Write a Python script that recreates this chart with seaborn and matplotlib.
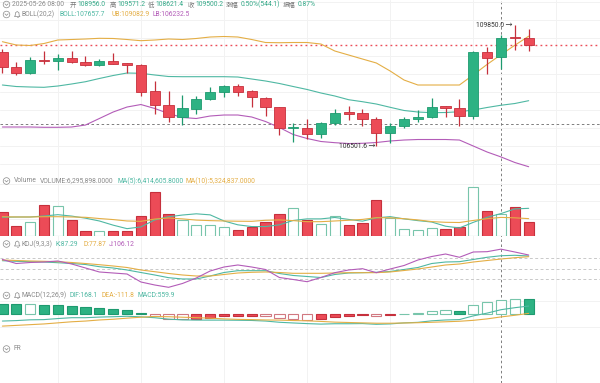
import numpy as np
import pandas as pd
import matplotlib
matplotlib.use("Agg")
import matplotlib.pyplot as plt
import seaborn as sns
from matplotlib.patches import Circle, Polygon

sns.set_theme(style="white")
plt.rcParams['font.family'] = ['Roboto', 'Noto Sans CJK SC', 'DejaVu Sans']

# ---------------- data ----------------
opens = [109111, 108696, 108514, 108882, 108854, 108929, 108834, 108743, 108862, 108790,
         108743, 108024, 107628, 107313, 107526, 107802, 108004, 108162, 108024, 107838,
         107573, 106990, 107000, 106826, 107130, 107440, 107407, 107249, 106853, 107055,
         107249, 107296, 107609, 107545, 107340, 109095, 108956.0, 109520, 109482]
highs = [109186, 108818, 108956, 109139, 109039, 109130, 109001, 108901, 109067, 108790,
         108760, 108309, 108024, 107905, 107885, 108143, 108190, 108209, 108051, 107850,
         107590, 107130, 107257, 107174, 107517, 107609, 107517, 107313, 107130, 107313,
         107498, 107838, 107620, 107802, 109139, 109250, 109571.2, 109850.0, 109739]
lows = [108530, 108467, 108500, 108763, 108605, 108807, 108716, 108724, 108763, 108514,
        107885, 107379, 107174, 107083, 107379, 107775, 107850, 107885, 107573, 107340,
        106806, 106621, 106696, 106715, 107083, 107222, 107055, 106501.6, 106593, 106992,
        107174, 107290, 107313, 107055, 107241, 108486, 108621.4, 109158, 109131]
closes = [108696, 108514, 108882, 108854, 108929, 108834, 108752, 108862, 108771, 108752,
          108004, 107636, 107313, 107545, 107802, 107988, 108162, 108004, 107850, 107573,
          106992, 107010, 106826, 107130, 107407, 107400, 107249, 106853, 107055, 107249,
          107313, 107589, 107562, 107340, 109095, 108929, 109500.2, 109480, 109300]

boll_ub = [109388, 109297, 109283, 109338, 109435, 109449, 109463, 109482, 109477, 109449,
           109416, 109435, 109463, 109449, 109477, 109518, 109532, 109518, 109449, 109366,
           109360, 109366, 109366, 109324, 109131, 109020, 108909, 108799, 108577, 108328,
           108190, 108190, 108190, 108190, 108470, 108760, 109030, 109290, 109540]
boll_mb = [108190, 108148, 108135, 108126, 108162, 108218, 108281, 108370, 108453, 108522,
           108514, 108467, 108425, 108420, 108420, 108420, 108420, 108411, 108356, 108301,
           108232, 108148, 108066, 107969, 107886, 107783, 107728, 107664, 107573, 107485,
           107443, 107424, 107429, 107451, 107498, 107568, 107630, 107678, 107756]
boll_lb = [107028, 107028, 107028, 107020, 107020, 107028, 107083, 107263, 107443, 107581,
           107650, 107540, 107401, 107291, 107263, 107332, 107360, 107360, 107305, 107180,
           107014, 106820, 106710, 106627, 106594, 106571, 106577, 106599, 106641, 106668,
           106682, 106682, 106682, 106668, 106502, 106336, 106200, 106046, 105929]

volumes = [6782000, 2862000, 4092000, 8872000, 8585000, 4665000, 1345000, 1345000, 1345000, 1431000,
           5638000, 12592000, 6382000, 4579000, 3062000, 3062000, 2661000, 1717000, 2490000, 3921000,
           6296000, 7927000, 4579000, 3348000, 5724000, 3062000, 3634000, 10302000, 5065000, 1917000,
           1717000, 2204000, 2089000, 2490000, 13937000, 7155000, 6295898, 8213000, 3921000]
vol_ma5 = [5350000, 5440000, 5440000, 5720000, 6100000, 5700000, 5100000, 4300000, 3100000, 2100000,
           2600000, 4600000, 5500000, 6000000, 6350000, 6050000, 4300000, 3200000, 2700000, 2700000,
           3200000, 4450000, 4900000, 4900000, 5300000, 4750000, 4250000, 5180000, 5540000, 4900000,
           4400000, 4000000, 2800000, 2300000, 3900000, 5350000, 6414606, 7750000, 7920000]
vol_ma10 = [5520000, 5440000, 5440000, 5520000, 5520000, 5440000, 5350000, 5000000, 4700000, 4300000,
            4200000, 4850000, 5150000, 4900000, 4550000, 4400000, 4300000, 4230000, 4200000, 4500000,
            4600000, 4400000, 4100000, 4100000, 4300000, 4500000, 4750000, 5250000, 5200000, 4950000,
            4600000, 4120000, 3920000, 3860000, 4450000, 4950000, 5324837, 5200000, 4970000]

kdj_k = [73.1, 71.4, 70.3, 69.4, 67.4, 65.1, 62.3, 56.0, 52.3, 46.6,
         39.4, 32.3, 24.6, 20.9, 20.9, 29.4, 39.4, 44.6, 44.6, 44.6,
         36.6, 30.9, 28.0, 25.1, 33.7, 38.0, 38.9, 40.0, 42.3, 48.0,
         53.7, 65.1, 69.4, 70.3, 76.6, 82.9, 87.29, 88.6, 86.6]
kdj_d = [75.1, 73.7, 72.3, 71.4, 70.3, 68.0, 65.1, 61.7, 58.0, 53.7,
         46.6, 41.7, 36.6, 32.3, 29.4, 29.4, 33.7, 38.0, 40.0, 40.9,
         39.4, 37.1, 37.1, 37.1, 38.0, 38.9, 38.9, 38.9, 40.9, 45.1,
         49.4, 55.1, 60.9, 63.7, 69.4, 73.7, 77.87, 81.7, 84.6]
kdj_j = [76.6, 65.1, 68.0, 69.4, 72.3, 63.7, 52.3, 40.9, 38.0, 35.1,
         12.3, 3.7, -2.9, 8.0, 23.7, 43.7, 55.1, 60.9, 55.1, 48.0,
         25.1, 19.4, 13.1, 25.1, 38.9, 46.6, 50.3, 38.9, 49.4, 59.4,
         75.1, 85.1, 92.3, 82.9, 98.0, 98.9, 106.12, 98.0, 89.4]

macd_hist = [392, 372, 376, 336, 334, 316, 260, 224, 196, 148,
             28, -95, -188, -207, -188, -151, -95, -67, -65, -84,
             -168, -188, -216, -207, -123, -95, -56, -84, -54, 8,
             28, 112, 140, 130, 344, 448, 559.9, 588, 570]
macd_dea = [-468, -440, -412, -384, -342, -300, -272, -230, -202, -160,
            -123, -95, -104, -123, -140, -160, -188, -207, -216, -230,
            -235, -252, -263, -286, -314, -328, -342, -356, -356, -347,
            -336, -319, -300, -280, -244, -188, -111.8, -48, 25]
macd_dif = [-272, -254, -224, -216, -175, -142, -142, -118, -104, -86,
            -109, -143, -198, -227, -234, -236, -236, -241, -249, -272,
            -319, -346, -371, -390, -376, -376, -370, -398, -383, -343,
            -322, -263, -230, -215, -72, 36, 168.1, 246, 310]

crosshair_idx = 36
crosshair_price = 107103

header1 = [("2025-05-26 08:00", "g"), ("开", "l"), ("108956.0", "v"), ("高", "l"), ("109571.2", "v"),
           ("低", "l"), ("108621.4", "v"), ("收", "l"), ("109500.2", "v"), ("涨幅", "l"),
           ("0.50%(544.1)", "v"), ("振幅", "l"), ("0.87%", "v")]
header1_x = [12, 70, 77, 110, 117, 148, 155, 188, 195, 226, 240.5, 283, 297.5]

# ---------------- style ----------------
W, H = 600, 383
GREEN, GREEN_EDGE, GREEN_LIGHT = "#2db283", "#1e9a6f", "#78c5ab"
RED, RED_EDGE, RED_LIGHT = "#ec4b57", "#c6303c", "#d17880"
TEAL, ORANGE, PURPLE = "#4fb8a3", "#e4ae45", "#b35cb8"
GRAY, LABEL = "#8a8a8a", "#767676"
GRID = "#f2f2f2"
FS = 4.9
FS_CJK = 4.6

idx = np.arange(len(closes))
XMIN, XMAX = -0.173, 43.15

fig = plt.figure(figsize=(W / 100, H / 100), dpi=100)
fig.patch.set_facecolor("white")


def panel(top, bottom):
    ax = fig.add_axes([0, 1 - bottom / H, 1, (bottom - top) / H])
    ax.set_facecolor("none")
    for s in ax.spines.values():
        s.set_visible(False)
    ax.tick_params(left=False, bottom=False, labelleft=False, labelbottom=False)
    return ax


def finish(ax, ylim):
    ax.set_xlim(XMIN, XMAX)
    ax.set_ylim(*ylim)
    ax.set_xlabel("")
    ax.set_ylabel("")


# background: vertical grid + crosshair
bg = panel(0, H)
bg.set_xticks(np.arange(4, 43, 6))
bg.set_yticks([])
bg.grid(axis="x", color=GRID, lw=0.7)
bg.axvline(crosshair_idx, color="#7d7d7d", lw=0.7, ls=(0, (2.6, 2.6)), zorder=5)
finish(bg, (0, 1))

o, h, l, c = map(np.array, (opens, highs, lows, closes))
up = c >= o

# ---- price panel ----
pax = panel(0, 172)
pax.set_yticks(np.arange(106000, 110600, 500))
pax.set_xticks([])
pax.grid(axis="y", color=GRID, lw=0.7)
pax.axhline(closes[-1], color=RED, lw=1.0, ls=(0, (1.3, 2.3)), zorder=1)
pax.axhline(crosshair_price, color="#7d7d7d", lw=0.7, ls=(0, (2.6, 2.6)), zorder=1)
for arr, col in ((boll_ub, ORANGE), (boll_mb, TEAL), (boll_lb, PURPLE)):
    sns.lineplot(x=idx, y=arr, ax=pax, color=col, linewidth=0.8, zorder=2)
pax.vlines(idx, l, h, colors=np.where(up, GREEN_EDGE, RED_EDGE), lw=0.9, zorder=3)
pax.bar(idx, np.maximum(np.abs(c - o), 28), bottom=np.minimum(o, c), width=0.74,
        color=np.where(up, GREEN, RED), edgecolor=np.where(up, GREEN_EDGE, RED_EDGE),
        linewidth=0.6, zorder=4)
imax = int(np.argmax(h))
imin = int(np.argmin(l))
pax.text(imax - 0.15, h[imax], f"{h[imax]:.1f} →", ha="right", va="center", fontsize=FS, color="#333333")
pax.text(imin - 0.1, l[imin], f"{l[imin]:.1f} →", ha="right", va="center", fontsize=FS, color="#333333")
finish(pax, (105783, 110542))

# ---- volume panel ----
vax = panel(176, 236)
vax.set_yticks(np.arange(5000000, 17000000, 5000000))
vax.set_xticks([])
vax.grid(axis="y", color=GRID, lw=0.7)
vax.bar(idx, volumes, width=0.74, color=np.where(up, "white", RED),
        edgecolor=np.where(up, GREEN_LIGHT, RED_EDGE), linewidth=0.8, zorder=3)
sns.lineplot(x=idx, y=vol_ma5, ax=vax, color=TEAL, linewidth=0.8, zorder=4)
sns.lineplot(x=idx, y=vol_ma10, ax=vax, color=ORANGE, linewidth=0.8, zorder=4)
finish(vax, (0, 17170000))

# ---- KDJ panel ----
kax = panel(238, 290)
kax.set_yticks([]); kax.set_xticks([])
for lv in (80, 50, 20):
    kax.axhline(lv, color="#c9c9c9", lw=0.7, ls=(0, (3, 2.5)), zorder=1)
sns.lineplot(x=idx, y=kdj_k, ax=kax, color=TEAL, linewidth=0.8)
sns.lineplot(x=idx, y=kdj_d, ax=kax, color=ORANGE, linewidth=0.8)
sns.lineplot(x=idx, y=kdj_j, ax=kax, color=PURPLE, linewidth=0.8)
finish(kax, (-10.6, 138))

# ---- MACD panel ----
max_ = panel(290, 342)
max_.set_yticks([-500, 500]); max_.set_xticks([])
max_.grid(axis="y", color=GRID, lw=0.7)
hist = np.array(macd_hist, dtype=float)
prev = np.r_[hist[0] * 2, hist[:-1]]
growing = (np.abs(hist) >= np.abs(prev)) | (np.sign(hist) != np.sign(prev))
pos = hist >= 0
face = np.where(growing, "white", np.where(pos, GREEN, RED))
edge = np.where(pos, np.where(growing, GREEN_LIGHT, GREEN_EDGE), np.where(growing, RED_LIGHT, RED_EDGE))
max_.bar(idx, hist, width=0.74, color=face, edgecolor=edge, linewidth=0.8, zorder=3)
sns.lineplot(x=idx, y=macd_dif, ax=max_, color=TEAL, linewidth=0.8, zorder=4)
sns.lineplot(x=idx, y=macd_dea, ax=max_, color=ORANGE, linewidth=0.8, zorder=4)
finish(max_, (-1084, 932))

# ---- FR panel ----
fax = panel(342, 383)
fax.set_xticks([]); fax.set_yticks([])
finish(fax, (0, 1))

# ---------------- text overlay (pixel coordinates) ----------------
tx = fig.add_axes([0, 0, 1, 1])
tx.set_xlim(0, W)
tx.set_ylim(H, 0)
tx.axis("off")
renderer = fig.canvas.get_renderer()


def chevron_icon(y):
    tx.add_patch(Circle((6.5, y), 3.3, fill=False, ec=GRAY, lw=0.5))
    tx.plot([4.9, 6.5, 8.1], [y - 0.7, y + 0.9, y - 0.7], color=GRAY, lw=0.5)


def bell_icon(y, x=17.2):
    pts = [(x, y - 3.0), (x - 1.7, y - 1.8), (x - 2.0, y + 1.0), (x - 2.8, y + 2.0),
           (x + 2.8, y + 2.0), (x + 2.0, y + 1.0), (x + 1.7, y - 1.8)]
    tx.add_patch(Polygon(pts, closed=True, fill=False, ec=GRAY, lw=0.5))
    tx.plot([x - 0.7, x + 0.7], [y + 2.9, y + 2.9], color=GRAY, lw=0.5)


def segs(y, items, gap=2.2):
    end = -1e9
    for xx, s, col, fs in items:
        x0 = max(xx, end + gap)
        t = tx.text(x0, y, s, fontsize=fs, color=col, ha="left", va="center")
        bb = t.get_window_extent(renderer)
        end = x0 + bb.width


colmap = {"g": (GRAY, FS), "l": (LABEL, FS_CJK), "v": ("#34a988", FS)}
chevron_icon(4.5)
segs(4.5, [(xx, s, colmap[k][0], colmap[k][1]) for xx, (s, k) in zip(header1_x, header1)], gap=1.5)

chevron_icon(14.5); bell_icon(14.5)
segs(14.5, [(22, "BOLL(20,2)", GRAY, FS), (60, "BOLL:107657.7", TEAL, FS),
            (112, "UB:109082.9", ORANGE, FS), (150, "LB:106232.5", PURPLE, FS)])

chevron_icon(181)
segs(181, [(14, "Volume", GRAY, FS), (40, "VOLUME:6,295,898.0000", GRAY, FS),
           (117, "MA(5):6,414,605.8000", TEAL, FS), (185, "MA(10):5,324,837.0000", ORANGE, FS)])

chevron_icon(244); bell_icon(244)
segs(244, [(21, "KDJ(9,3,3)", GRAY, FS), (56, "K:87.29", TEAL, FS),
           (83, "D:77.87", ORANGE, FS), (109, "J:106.12", PURPLE, FS)])

chevron_icon(295.5); bell_icon(295.5)
segs(295.5, [(21, "MACD(12,26,9)", GRAY, FS), (70, "DIF:168.1", TEAL, FS),
             (102, "DEA:-111.8", ORANGE, FS), (138, "MACD:559.9", TEAL, FS)])

chevron_icon(349)
segs(349, [(14, "FR", GRAY, FS)])

fig.savefig("out.png", dpi=100, facecolor="white")
